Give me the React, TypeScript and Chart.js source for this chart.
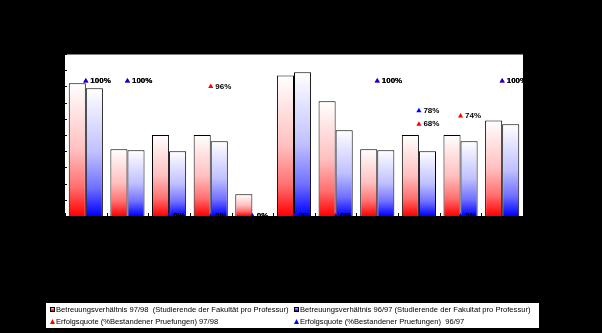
import React, { useEffect, useRef } from 'react';
import { Chart, registerables } from 'chart.js';

Chart.register(...registerables);

const categories = ['1', '2', '3', '4', '5', '6', '7', '8', '9', '10', '11'];
const ratio9798 = [41, 20.6, 25, 25, 6.7, 43.4, 35.4, 20.6, 25, 25, 29.5];
const ratio9697 = [39.4, 20.3, 20, 23.1, 0, 44.4, 26.5, 20.3, 20, 23.1, 28.3];
const success9798 = [100, 100, 0, 96, 0, 0, 0, 100, 68, 74, 100];
const success9697 = [100, 100, 0, 0, 0, 0, 0, 100, 78, 0, 100];

const labelRatio9798 = 'Betreuungsverhältnis 97/98  (Studierende der Fakultät pro Professur)';
const labelRatio9697 = 'Betreuungsverhältnis 96/97 (Studierende der Fakultat pro Professur)';
const labelSuccess9798 = 'Erfolgsquote (%Bestandener Pruefungen) 97/98';
const labelSuccess9697 = 'Erfolgsquote (%Bestandener Pruefungen)  96/97';

const RED = '#ff0000';
const BLUE = '#0000ff';
const RED_STOPS = ['#ffffff', '#ffc0c0', '#ff7070', '#ff0000'];
const BLUE_STOPS = ['#ffffff', '#c0c0ff', '#7070ff', '#0000ff'];

function fillStops(g: CanvasGradient, stops: string[]) {
  g.addColorStop(0, stops[0]);
  g.addColorStop(0.5, stops[1]);
  g.addColorStop(0.78, stops[2]);
  g.addColorStop(1, stops[3]);
}

function barGradient(color: string, stops: string[]) {
  return (ctx: any) => {
    const chart = ctx.chart;
    if (!chart.chartArea || ctx.type !== 'data') return color;
    const y = chart.scales.y;
    const v = ctx.raw ?? 0;
    const top = y.getPixelForValue(v);
    const bottom = y.getPixelForValue(0);
    if (bottom - top < 1) return color;
    const g = chart.ctx.createLinearGradient(0, top, 0, bottom);
    fillStops(g, stops);
    return g;
  };
}

const decoPlugin = {
  id: 'deco',
  beforeDraw(chart: any) {
    const { ctx, chartArea: a, width, height } = chart;
    ctx.save();
    ctx.fillStyle = '#000';
    ctx.fillRect(0, 0, width, height);
    ctx.fillStyle = '#fff';
    ctx.fillRect(a.left, a.top, a.right - a.left, a.bottom - a.top);
    ctx.fillStyle = '#808080';
    ctx.fillRect(a.left, a.top, a.right - a.left, 1);
    ctx.restore();
  },
  afterDatasetsDraw(chart: any) {
    const { ctx, chartArea: a } = chart;
    ctx.save();
    ctx.strokeStyle = '#000';
    ctx.lineWidth = 1;
    ctx.beginPath();
    for (let i = 0; i <= 10; i++) {
      const y = Math.round(a.top + (i * (a.bottom - a.top)) / 10) + 0.5;
      ctx.moveTo(a.left - 3, y);
      ctx.lineTo(a.left + 2, y);
    }
    const n = categories.length;
    for (let i = 0; i <= n; i++) {
      const x = Math.round(a.left + (i * (a.right - a.left)) / n) + 0.5;
      ctx.moveTo(x, a.bottom - 3);
      ctx.lineTo(x, a.bottom + 3);
    }
    ctx.stroke();
    ctx.restore();
  },
  afterDraw(chart: any) {
    const { ctx } = chart;
    ctx.save();
    ctx.font = 'bold 8px "Liberation Sans", Arial, sans-serif';
    ctx.fillStyle = '#000';
    ctx.textBaseline = 'middle';
    ctx.textAlign = 'left';
    [1, 0].forEach((di) => {
      const meta = chart.getDatasetMeta(di);
      const data = chart.data.datasets[di].data as number[];
      meta.data.forEach((el: any, j: number) => {
        if (data[j] == null) return;
        ctx.fillText(data[j] + '%', el.x + 4.5, el.y);
      });
    });
    const a = chart.chartArea;
    ctx.fillStyle = '#000';
    ctx.fillRect(a.left - 1, a.bottom + 0.5, a.right - a.left + 2, 4);
    // legend
    ctx.fillStyle = '#fff';
    ctx.fillRect(46, 303, 493, 25);
    ctx.font = '7.6px "Liberation Sans", Arial, sans-serif';
    const items = [
      { kind: 'box', color: RED, light: '#ffb0b0', text: labelRatio9798, x: 50, y: 310 },
      { kind: 'box', color: BLUE, light: '#b0b0ff', text: labelRatio9697, x: 294, y: 310 },
      { kind: 'tri', color: RED, light: '#ffb0b0', text: labelSuccess9798, x: 50, y: 322 },
      { kind: 'tri', color: BLUE, light: '#b0b0ff', text: labelSuccess9697, x: 294, y: 322 },
    ];
    items.forEach((it) => {
      if (it.kind === 'box') {
        const g = ctx.createLinearGradient(0, it.y - 2, 0, it.y + 1);
        g.addColorStop(0, it.light);
        g.addColorStop(1, it.color);
        ctx.fillStyle = g;
        ctx.fillRect(it.x, it.y - 3, 5, 5);
        ctx.strokeStyle = '#000';
        ctx.lineWidth = 1;
        ctx.strokeRect(it.x + 0.5, it.y - 2.5, 4, 4);
      } else {
        ctx.fillStyle = it.color;
        ctx.beginPath();
        ctx.moveTo(it.x + 2.5, it.y - 3);
        ctx.lineTo(it.x + 5, it.y + 2);
        ctx.lineTo(it.x, it.y + 2);
        ctx.closePath();
        ctx.fill();
      }
      ctx.fillStyle = '#000';
      ctx.textBaseline = 'middle';
      ctx.fillText(it.text, it.x + 6, it.y);
    });
    ctx.restore();
  },
};

export default function App() {
  const ref = useRef<HTMLCanvasElement>(null);
  useEffect(() => {
    document.body.style.margin = '0';
    document.body.style.background = '#000';
    const canvas = ref.current;
    if (!canvas) return;
    const chart = new Chart(canvas, {
      type: 'bar',
      data: {
        labels: categories,
        datasets: [
          {
            type: 'line',
            label: labelSuccess9697,
            data: success9697,
            yAxisID: 'y2',
            showLine: false,
            pointStyle: 'triangle',
            pointRadius: 3,
            pointBackgroundColor: BLUE,
            pointBorderColor: BLUE,
            pointBorderWidth: 0,
            order: 0,
          } as any,
          {
            type: 'line',
            label: labelSuccess9798,
            data: success9798,
            yAxisID: 'y2',
            showLine: false,
            pointStyle: 'triangle',
            pointRadius: 3,
            pointBackgroundColor: RED,
            pointBorderColor: RED,
            pointBorderWidth: 0,
            order: 1,
          } as any,
          {
            type: 'bar',
            label: labelRatio9798,
            data: ratio9798,
            yAxisID: 'y',
            backgroundColor: barGradient(RED, RED_STOPS),
            borderColor: '#000',
            borderWidth: 1,
            order: 2,
          } as any,
          {
            type: 'bar',
            label: labelRatio9697,
            data: ratio9697,
            yAxisID: 'y',
            backgroundColor: barGradient(BLUE, BLUE_STOPS),
            borderColor: '#000',
            borderWidth: 1,
            order: 3,
          } as any,
        ],
      },
      options: {
        responsive: false,
        animation: false,
        devicePixelRatio: 1,
        layout: { padding: { left: 65, top: 54, right: 79, bottom: 117 } },
        datasets: { bar: { categoryPercentage: 0.82, barPercentage: 1.0 } },
        plugins: { legend: { display: false }, tooltip: { enabled: false } },
        scales: {
          x: { display: false, offset: true },
          y: { display: false, min: 0, max: 50 },
          y2: { display: false, min: 0, max: 120 },
        },
      } as any,
      plugins: [decoPlugin],
    });
    return () => chart.destroy();
  }, []);
  return (
    <div style={{ width: 602, height: 333, background: '#000' }}>
      <canvas ref={ref} width={602} height={333} style={{ display: 'block' }} />
    </div>
  );
}
